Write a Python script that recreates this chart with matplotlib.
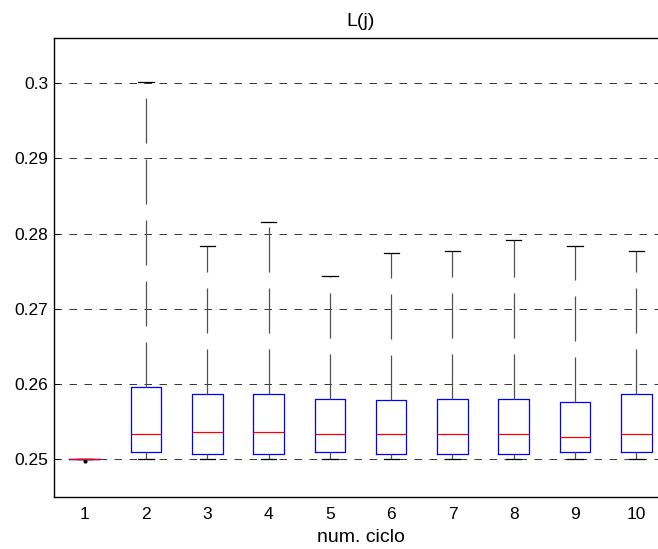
import matplotlib
matplotlib.use("Agg")
import matplotlib.pyplot as plt

plt.rcParams['font.family'] = ['Liberation Sans', 'DejaVu Sans']
plt.rcParams['lines.scale_dashes'] = False

# valori
cicli = [1, 2, 3, 4, 5, 6, 7, 8, 9, 10]
mediane = [0.25, 0.25339, 0.25365, 0.25365, 0.25339, 0.25339, 0.25339, 0.25339, 0.25303, 0.25339]
q1 = [0.25, 0.25096, 0.25077, 0.25077, 0.25096, 0.25077, 0.25077, 0.25077, 0.25096, 0.25096]
q3 = [0.25, 0.25959, 0.25866, 0.25866, 0.25808, 0.25786, 0.25808, 0.25808, 0.25768, 0.25866]
baffo_min = [0.25] * 10
baffo_max = [0.25, 0.3001, 0.27831, 0.28154, 0.27441, 0.27738, 0.27765, 0.27911, 0.27831, 0.27765]
outlier = [[0.24985], [], [], [], [], [], [], [], [], []]

stats = []
for i in range(len(cicli)):
    stats.append(dict(med=mediane[i], q1=q1[i], q3=q3[i],
                      whislo=baffo_min[i], whishi=baffo_max[i],
                      fliers=outlier[i], label=str(cicli[i])))

fig = plt.figure(figsize=(6.58, 5.49), dpi=100)
ax = fig.add_axes([0.0821, 0.0947, 0.9316, 0.836])

ax.bxp(stats, positions=cicli, widths=0.5, capwidths=0.25,
       boxprops=dict(color=(0, 0, 1), linewidth=0.9),
       medianprops=dict(color=(1, 0, 0), linewidth=0.9),
       whiskerprops=dict(color='#505050', linewidth=0.9, linestyle=(0, (32.4, 11.5))),
       capprops=dict(color='black', linewidth=0.9),
       flierprops=dict(marker='.', markersize=4, markerfacecolor='black',
                       markeredgecolor='black', linestyle='none'))

ax.set_xlim(0.5, 10.5)
ax.set_ylim(0.245, 0.306)
ax.set_yticks([0.25, 0.26, 0.27, 0.28, 0.29, 0.3])
ax.set_yticklabels(['0.25', '0.26', '0.27', '0.28', '0.29', '0.3'])
ax.yaxis.grid(True, color='#333333', linestyle=(0, (5.4, 5.4)), linewidth=0.7)
ax.set_axisbelow(True)

ax.tick_params(axis='y', direction='in', length=3.6, width=0.7, labelsize=12.5, pad=4)
ax.tick_params(axis='x', length=0, labelsize=12.5, pad=7)
for s in ax.spines.values():
    s.set_linewidth(1.0)

ax.set_title('L(j)', fontsize=14, pad=9)
ax.set_xlabel('num. ciclo', fontsize=14, labelpad=5)

fig.savefig('out.png', dpi=100)
